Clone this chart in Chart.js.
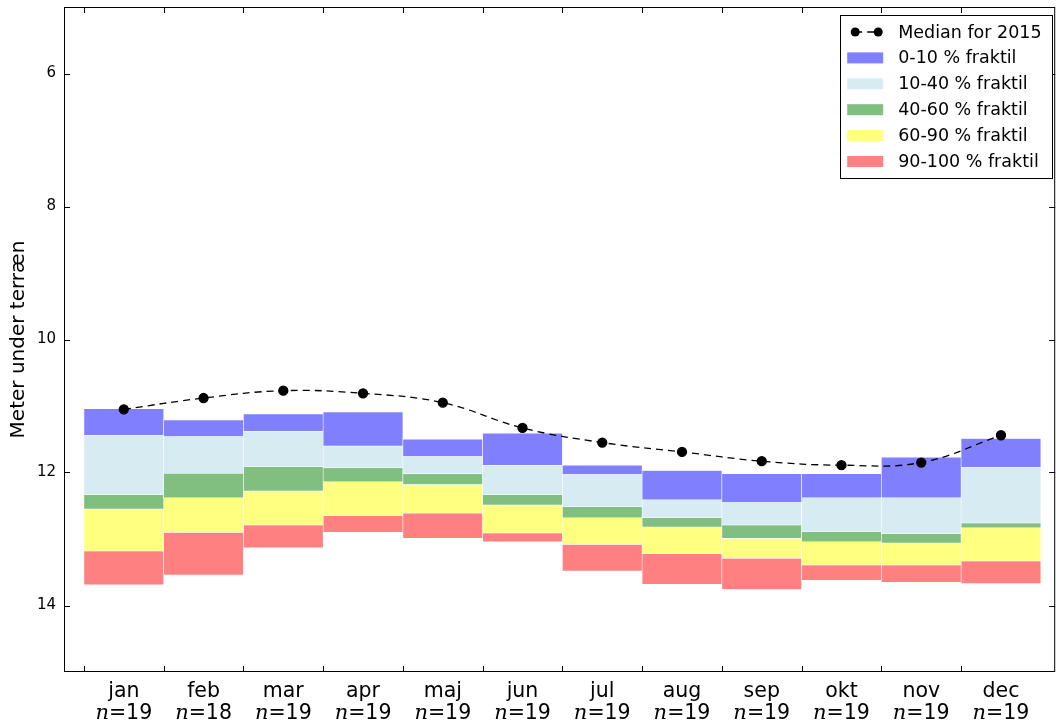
<!DOCTYPE html>
<html>
<head>
<meta charset="utf-8">
<script src="https://cdn.jsdelivr.net/npm/chart.js@4.4.0/dist/chart.umd.min.js"></script>
<style>
  html, body { margin: 0; padding: 0; background: #fff; }
  canvas { display: block; }
</style>
</head>
<body>
<canvas id="myChart" width="1061" height="727"></canvas>
<script>
const months = ['jan', 'feb', 'mar', 'apr', 'maj', 'jun', 'jul', 'aug', 'sep', 'okt', 'nov', 'dec'];
const counts = [19, 18, 19, 19, 19, 19, 19, 19, 19, 19, 19, 19];
const yTicks = [6, 8, 10, 12, 14];

// median 2015 (meter under terræn)
const median2015 = [11.05, 10.88, 10.77, 10.81, 10.95, 11.33, 11.55, 11.69, 11.83, 11.89, 11.85, 11.44];

// fraktil grænser pr. måned
const p0   = [11.04, 11.21, 11.12, 11.09, 11.50, 11.41, 11.89, 11.97, 12.02, 12.02, 11.77, 11.49];
const p10  = [11.44, 11.46, 11.38, 11.60, 11.76, 11.89, 12.03, 12.41, 12.45, 12.38, 12.38, 11.92];
const p40  = [12.33, 12.01, 11.91, 11.93, 12.02, 12.33, 12.51, 12.68, 12.79, 12.89, 12.92, 12.76];
const p60  = [12.55, 12.38, 12.28, 12.14, 12.18, 12.49, 12.68, 12.82, 12.99, 13.04, 13.06, 12.83];
const p90  = [13.18, 12.90, 12.79, 12.65, 12.61, 12.91, 13.08, 13.22, 13.29, 13.39, 13.39, 13.33];
const p100 = [13.69, 13.54, 13.13, 12.90, 12.99, 13.04, 13.48, 13.68, 13.76, 13.62, 13.65, 13.67];

const bandLabels = ['0-10 % fraktil', '10-40 % fraktil', '40-60 % fraktil', '60-90 % fraktil', '90-100 % fraktil'];
const bandColors = ['#8080ff', '#d6ebf2', '#80bf80', '#ffff80', '#ff8080'];
const bandEdges = [p0, p10, p40, p60, p90, p100];

const fontName = 'DejaVu Sans';

const bandDatasets = bandLabels.map((label, b) => ({
  type: 'bar',
  label: label,
  data: months.map((m, i) => ({ x: i + 1, y: [bandEdges[b][i], bandEdges[b + 1][i]] })),
  backgroundColor: bandColors[b],
  borderColor: '#ffffff',
  borderWidth: 0.6,
  borderSkipped: false,
  grouped: false,
  barPercentage: 1,
  categoryPercentage: 1,
  order: 1
}));

const medianDataset = {
  type: 'line',
  label: 'Median for 2015',
  data: months.map((m, i) => ({ x: i + 1, y: median2015[i] })),
  borderColor: '#000',
  borderWidth: 1.3,
  borderDash: [7, 5],
  pointRadius: 4.5,
  pointBackgroundColor: '#000',
  pointBorderColor: '#000',
  tension: 0.4,
  fill: false,
  order: 0
};

// ramme, indadvendte ticks, måneds-labels og legend
const framePlugin = {
  id: 'frame',
  afterDraw(chart) {
    const { ctx, chartArea: a, scales: { x, y } } = chart;
    ctx.save();
    ctx.strokeStyle = '#000';
    ctx.lineWidth = 1;
    ctx.strokeRect(a.left + 0.5, a.top + 0.5, a.right - a.left - 1, a.bottom - a.top - 1);

    ctx.beginPath();
    yTicks.forEach(v => {
      const py = Math.round(y.getPixelForValue(v)) + 0.5;
      ctx.moveTo(a.left, py); ctx.lineTo(a.left + 6, py);
      ctx.moveTo(a.right, py); ctx.lineTo(a.right - 6, py);
    });
    months.forEach((m, i) => {
      const px = Math.round(x.getPixelForValue(i + 0.5)) + 0.5;
      ctx.moveTo(px, a.bottom); ctx.lineTo(px, a.bottom - 6);
      ctx.moveTo(px, a.top); ctx.lineTo(px, a.top + 6);
    });
    ctx.stroke();

    ctx.fillStyle = '#000';
    ctx.textBaseline = 'alphabetic';
    months.forEach((m, i) => {
      const px = x.getPixelForValue(i + 1);
      ctx.font = '20.5px "' + fontName + '"';
      ctx.textAlign = 'center';
      ctx.fillText(m, px, a.bottom + 25);
      const rest = '=' + counts[i];
      ctx.font = 'italic 21px "DejaVu Serif"';
      const wn = ctx.measureText('n').width;
      ctx.font = '20.5px "' + fontName + '"';
      const wr = ctx.measureText(rest).width;
      const start = px - (wn + wr) / 2;
      ctx.textAlign = 'left';
      ctx.font = 'italic 21px "DejaVu Serif"';
      ctx.fillText('n', start, a.bottom + 47);
      ctx.font = '20.5px "' + fontName + '"';
      ctx.fillText(rest, start + wn, a.bottom + 47);
    });

    // legend
    const bw = 212, bh = 163;
    const bx = a.right - 3 - bw, by = a.top + 8;
    ctx.fillStyle = '#fff';
    ctx.fillRect(bx, by, bw, bh);
    ctx.strokeStyle = '#000';
    ctx.lineWidth = 1;
    ctx.strokeRect(Math.round(bx) + 0.5, Math.round(by) + 0.5, bw, bh);
    const rowH = 25.9;
    const items = [medianDataset].concat(bandDatasets);
    ctx.font = '17.5px "' + fontName + '"';
    ctx.textBaseline = 'middle';
    ctx.textAlign = 'left';
    items.forEach((ds, r) => {
      const cy = by + 17 + r * rowH;
      if (ds.type === 'line') {
        ctx.strokeStyle = '#000';
        ctx.lineWidth = 1.3;
        ctx.setLineDash([7, 5]);
        ctx.beginPath();
        ctx.moveTo(bx + 15, cy); ctx.lineTo(bx + 38, cy);
        ctx.stroke();
        ctx.setLineDash([]);
        ctx.fillStyle = '#000';
        [15, 38].forEach(dx => {
          ctx.beginPath();
          ctx.arc(bx + dx, cy, 4.5, 0, Math.PI * 2);
          ctx.fill();
        });
      } else {
        ctx.fillStyle = ds.backgroundColor;
        ctx.fillRect(bx + 7, cy - 5.5, 36, 11);
      }
      ctx.fillStyle = '#000';
      ctx.fillText(ds.label, bx + 58, cy + 1);
    });
    ctx.restore();
  }
};

const ctx = document.getElementById('myChart');

new Chart(ctx, {
  data: {
    datasets: [medianDataset].concat(bandDatasets)
  },
  options: {
    responsive: false,
    animation: false,
    events: [],
    layout: { padding: { top: 7, right: 2, left: 0, bottom: 0 } },
    plugins: {
      legend: { display: false },
      tooltip: { enabled: false }
    },
    scales: {
      x: {
        type: 'linear',
        offset: false,
        min: 0.25,
        max: 12.68,
        grid: { display: false, drawTicks: false, offset: false },
        border: { display: false },
        ticks: { display: false },
        afterBuildTicks: scale => {
          scale.ticks = months.map((m, i) => ({ value: i + 1 }));
        },
        afterFit: scale => {
          scale.height = 55;
          scale.paddingLeft = 0;
          scale.paddingRight = 0;
        }
      },
      y: {
        type: 'linear',
        reverse: true,
        min: 5,
        max: 15,
        grid: { display: false, drawTicks: false },
        border: { display: false },
        ticks: {
          color: '#000',
          padding: 8,
          font: { family: fontName, size: 15 }
        },
        afterBuildTicks: scale => {
          scale.ticks = yTicks.map(v => ({ value: v }));
        },
        afterFit: scale => {
          scale.width = 64;
          scale.paddingTop = 0;
          scale.paddingBottom = 0;
        },
        title: {
          display: true,
          text: 'Meter under terræn',
          color: '#000',
          padding: { top: 7, bottom: 0 },
          font: { family: fontName, size: 20 }
        }
      }
    }
  },
  plugins: [framePlugin]
});
</script>
</body>
</html>
